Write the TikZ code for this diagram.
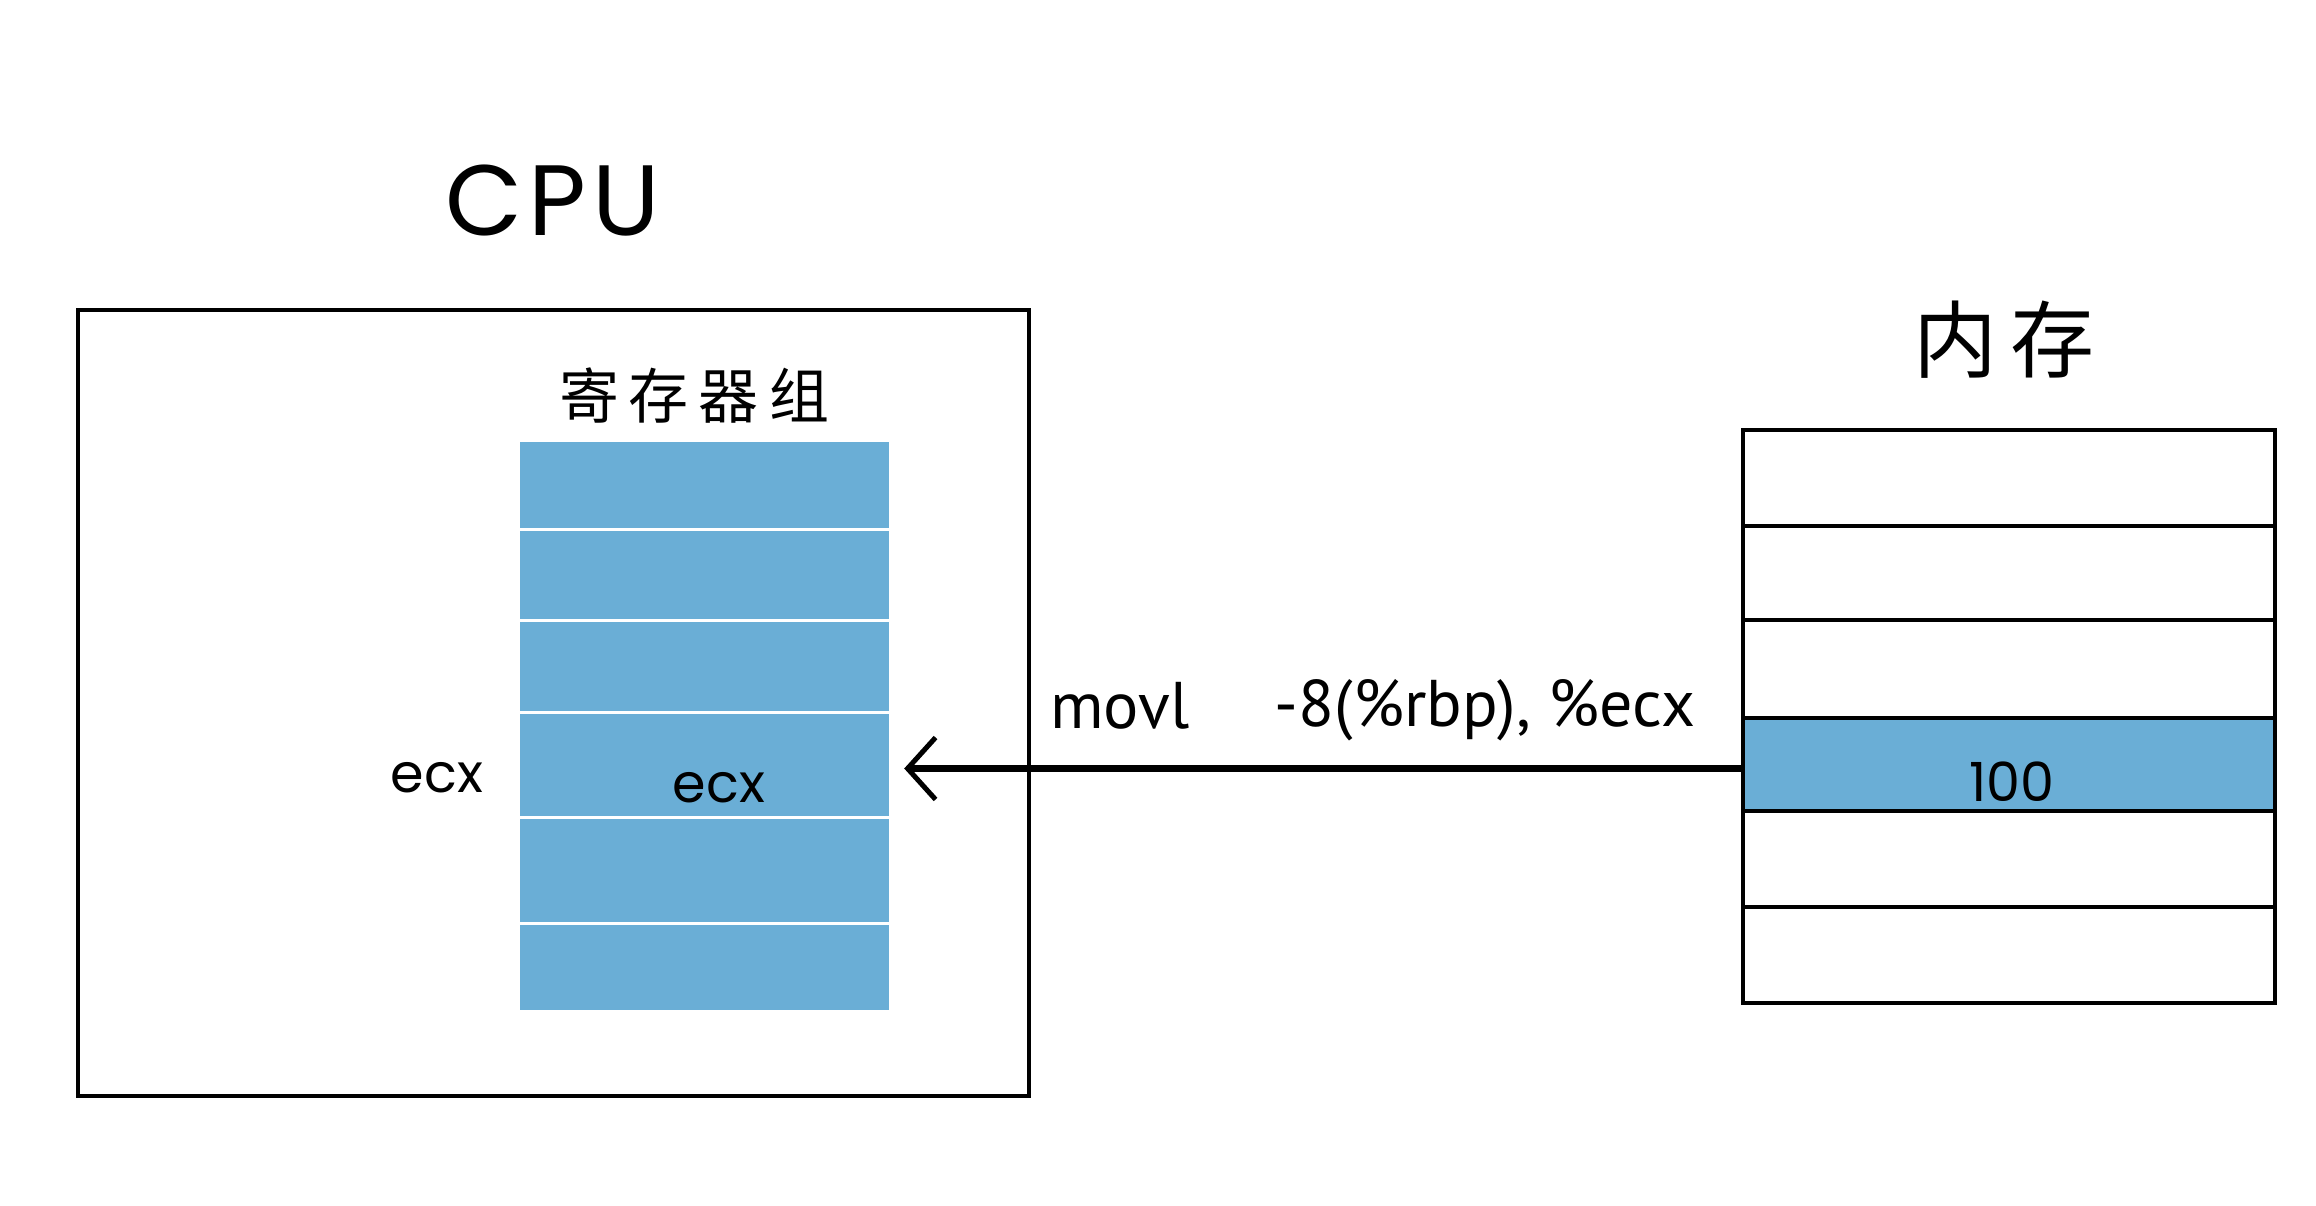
\documentclass[tikz,border=0pt]{standalone}
\usepackage{fontspec}
\setmainfont{Poppins}
\newfontfamily\cjk{Noto Sans CJK SC}
\newfontfamily\hand{PT Sans}
\usetikzlibrary{arrows.meta}
\definecolor{regblue}{RGB}{106,174,214}
\begin{document}
\begin{tikzpicture}[x=1pt,y=-1pt,
  regcell/.style={rectangle,fill=regblue,inner sep=0pt,minimum width=369pt},
  memcell/.style={rectangle,draw=black,line width=4.5pt,inner sep=0pt,minimum width=532pt},
  boxline/.style={draw=black,line width=4pt},
  divider/.style={draw=white,line width=3pt},
  bigtitle/.style={font=\fontsize{100}{110}\selectfont\addfontfeature{LetterSpace=6}},
  cjktitle/.style={font=\cjk\fontsize{#1}{#1}\selectfont},
  lbl/.style={font=\fontsize{54}{60}\selectfont},
  instr/.style={font=\hand\fontsize{66}{72}\selectfont},
  flow/.style={line width=7pt,-{Straight Barb[length=28pt,width=62pt,line width=5pt]}}
]
\useasboundingbox[fill=white] (0,0) rectangle (2316,1206);

% CPU box
\node[boxline,rectangle,minimum width=951pt,minimum height=786pt,inner sep=0pt] (cpu) at (553.5,703) {};
\node[bigtitle] (cputitle) at (553,201) {CPU};

% register group
\node[cjktitle=60] (regtitle) at (694,396) {寄\,存\,器\,组};
\node[regcell,minimum height=87.4pt] (r1) at (704.5,485.3) {};
\node[regcell,minimum height=91pt]   (r2) at (704.5,574.5) {};
\node[regcell,minimum height=92pt]   (r3) at (704.5,666) {};
\node[regcell,minimum height=105pt]  (r4) at (704.5,764.5) {};
\node[regcell,minimum height=106pt]  (r5) at (704.5,870) {};
\node[regcell,minimum height=87pt]   (r6) at (704.5,966.5) {};
\foreach \r in {r1,r2,r3,r4,r5}{
  \draw[divider] (\r.south west) -- (\r.south east);
}
\node[lbl] (ecxin) at (719,788) {ecx};
\node[lbl] (ecxout) at (437,778) {ecx};

% memory
\node[cjktitle=84] (memtitle) at (2004,340) {内\,存};
\node[memcell,minimum height=96pt] (m1) at (2009,478) {};
\node[memcell,minimum height=94pt] (m2) at (2009,573) {};
\node[memcell,minimum height=98pt] (m3) at (2009,669) {};
\node[memcell,minimum height=93pt,fill=regblue] (m4) at (2009,764.5) {};
\node[memcell,minimum height=96pt] (m5) at (2009,859) {};
\node[memcell,minimum height=96pt] (m6) at (2009,955) {};
\node[lbl] (val) at (2012,782) {100};

% instruction
\node[instr] (movl) at (1120,706) {movl};
\node[instr] (args) at (1485,710) {-8(\%rbp), \%ecx};

% data flow arrow
\draw[flow] ([yshift=-4pt]m4.west) -- ([xshift=15pt,yshift=-4pt]r4.east);
\end{tikzpicture}
\end{document}
